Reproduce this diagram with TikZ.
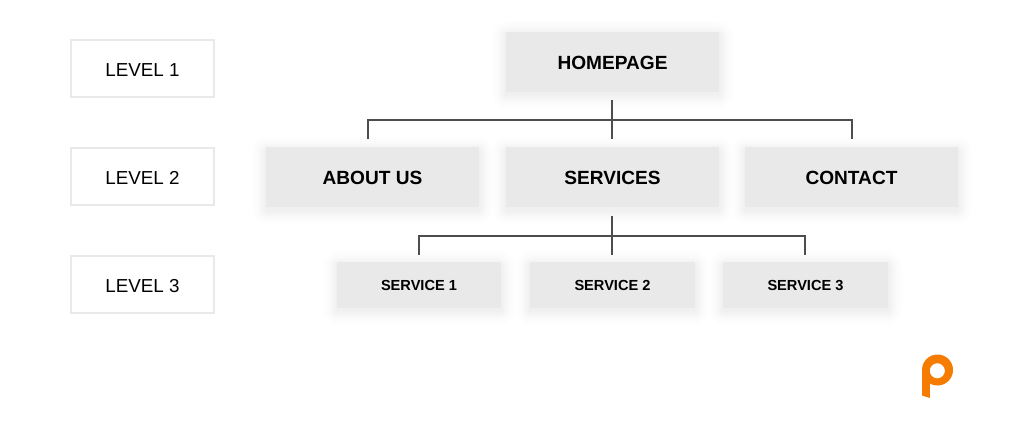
\documentclass[tikz,border=0pt]{standalone}
\usepackage{fontspec}
\setmainfont{Liberation Sans}
\definecolor{boxfill}{HTML}{E9E9E9}
\definecolor{linecol}{HTML}{4D4D4D}
\definecolor{logoor}{HTML}{F57C00}
\newcommand{\low}[1]{\raisebox{-0.6pt}[\height][\depth]{#1}}
\tikzset{
  x=1pt,y=-1pt,
  pagebox/.style={fill=boxfill,inner sep=0pt,text=black,anchor=center},
  largebox/.style={pagebox,minimum width=213pt,minimum height=60pt,font=\fontsize{19.1}{23}\selectfont\bfseries},
  smallbox/.style={pagebox,minimum width=164.5pt,minimum height=46pt,font=\fontsize{14.6}{18}\selectfont\bfseries},
  levelbox/.style={draw=boxfill,line width=2pt,fill=white,inner sep=0pt,minimum width=143pt,minimum height=57pt,font=\fontsize{18.8}{23}\selectfont},
  conn/.style={draw=linecol,line width=1.7pt}
}
\begin{document}
\begin{tikzpicture}
\useasboundingbox (0,0) rectangle (1028,430);
% soft shadows, outer to inner, painted as level sets
\foreach \s in {16,15,...,1}{
  \pgfmathsetmacro{\g}{1-(15/255)*((17-\s)/16)^1.8}
  \definecolor{shadecol}{rgb}{\g,\g,\g}
  \foreach \xa/\ya/\xb/\yb in {506/32/719/92,266/147.5/479/207.5,506/147.5/719/207.5,745/147.5/958/207.5,337/262/501/308,530/262/695/308,723/262/888/308}{
    \fill[shadecol,rounded corners=\s pt+2pt] (\xa-\s,\ya-\s+3) rectangle (\xb+\s,\yb+\s+3);
  }
}

\node[levelbox] (l1) at (142.5,69) {\low{LEVEL 1}};
\node[levelbox] (l2) at (142.5,177) {\low{LEVEL 2}};
\node[levelbox] (l3) at (142.5,285) {\low{LEVEL 3}};

\node[largebox] (home) at (612.5,62) {\low{HOMEPAGE}};
\node[largebox] (about) at (372.5,177.5) {\low{ABOUT US}};
\node[largebox] (serv) at (612.5,177.5) {\low{SERVICES}};
\node[largebox] (cont) at (851.5,177.5) {\low{CONTACT}};
\node[smallbox] (s1) at (419,285) {\low{SERVICE 1}};
\node[smallbox] (s2) at (612.5,285) {\low{SERVICE 2}};
\node[smallbox] (s3) at (805.5,285) {\low{SERVICE 3}};

\coordinate (hd) at (612,100);
\coordinate (a1) at (368,120);
\coordinate (a2) at (368,139);
\coordinate (c1) at (852,120);
\coordinate (c2) at (852,139);
\coordinate (m2) at (612,139);
\coordinate (sd) at (612,216);
\coordinate (b1) at (419,236);
\coordinate (b2) at (419,255);
\coordinate (b3) at (805,236);
\coordinate (b4) at (805,255);
\coordinate (m3) at (612,255);
\draw[conn] (hd) -- (m2);
\draw[conn] (a2) -- (a1) -- (c1) -- (c2);
\draw[conn] (sd) -- (m3);
\draw[conn] (b2) -- (b1) -- (b3) -- (b4);

\fill[logoor,even odd rule] (937.5,370) circle[radius=15.5] (937.3,370.8) circle[radius=7.6];
\fill[logoor] (922,370) -- (929.9,370) -- (929.9,398) -- (922,395.5) -- cycle;
\end{tikzpicture}
\end{document}
